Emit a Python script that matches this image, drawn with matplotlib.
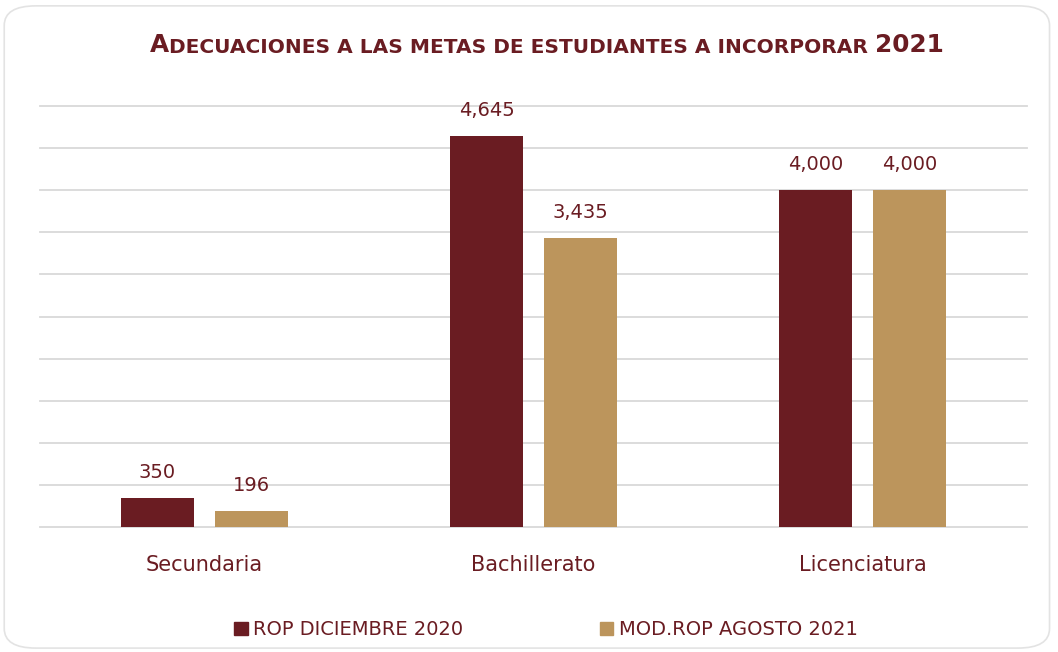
import matplotlib.pyplot as plt
import numpy as np
from matplotlib.patches import FancyBboxPatch, Patch

categories = ['Secundaria', 'Bachillerato', 'Licenciatura']
rop_2020 = [350, 4645, 4000]
mod_2021 = [196, 3435, 4000]
series_names = ['ROP DICIEMBRE 2020', 'MOD.ROP AGOSTO 2021']

red = '#6A1C22'
gold = '#BC955C'
plt.rcParams['font.family'] = ['DejaVu Sans']

fig = plt.figure(figsize=(10.58, 6.52), dpi=100)
# rounded frame around the card
frame = FancyBboxPatch((0.004, 0.006), 0.988, 0.985, boxstyle='round,pad=0,rounding_size=0.03',
                       transform=fig.transFigure, fc='white', ec='#E3E3E3', lw=1.2, zorder=-1)
fig.patches.append(frame)

ax = fig.add_axes([0.0378, 0.1917, 0.9329, 0.6457])
ax.set_facecolor('none')
x = np.arange(len(categories))
w = 0.222
off = 0.143
b1 = ax.bar(x - off, rop_2020, w, color=red, zorder=3)
b2 = ax.bar(x + off, mod_2021, w, color=gold, zorder=3)

for bars, vals in [(b1, rop_2020), (b2, mod_2021)]:
    for b, v in zip(bars, vals):
        ax.annotate(f'{v:,}', (b.get_x() + b.get_width() / 2, v), xytext=(0, 11.5),
                    textcoords='offset points', ha='center', va='bottom',
                    fontsize=14, color=red)

ax.set_xlim(-0.5, 2.5)
ax.set_ylim(0, 5000)
ax.set_yticks(np.arange(0, 5001, 500))
ax.yaxis.grid(True, color='#D9D9D9', lw=1.3, zorder=0)
for gl in ax.get_ygridlines():
    gl.set_clip_on(False)
ax.tick_params(axis='y', length=0, labelleft=False)
ax.tick_params(axis='x', length=0, pad=20, labelsize=15, labelcolor=red)
ax.set_xticks(x)
ax.set_xticklabels(categories)
for s in ax.spines.values():
    s.set_visible(False)

# title in small caps style
t1 = fig.text(0.142, 0.920, 'A', fontsize=17.8, fontweight='bold', color=red, va='baseline')
t2 = ax.annotate('DECUACIONES A LAS METAS DE ESTUDIANTES A INCORPORAR ', xy=(1, 0),
                 xycoords=t1, fontsize=14.5, fontweight='bold', color=red, va='bottom')
t3 = ax.annotate('2021', xy=(1, 0), xycoords=t2, fontsize=17.8, fontweight='bold',
                 color=red, va='bottom')

handles = [Patch(color=red), Patch(color=gold)]
leg = fig.legend(handles, series_names, loc='center', bbox_to_anchor=(0.516, 0.034),
                 ncol=2, frameon=False, fontsize=14, handlelength=0.7, handleheight=0.7,
                 handletextpad=0.3, columnspacing=7.0)
for t in leg.get_texts():
    t.set_color(red)

fig.savefig('out.png', dpi=100)
